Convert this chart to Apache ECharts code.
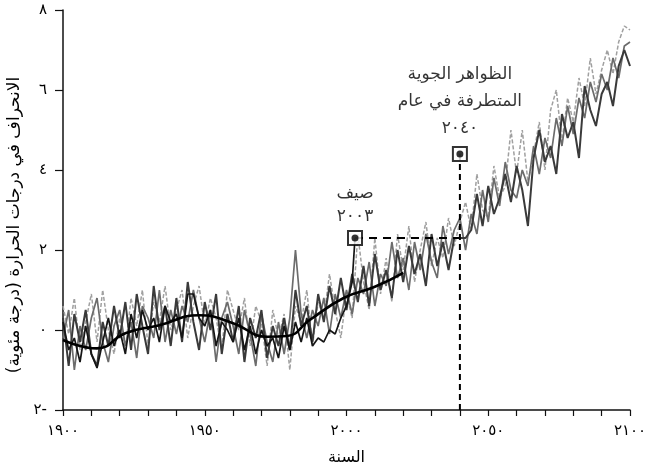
<!DOCTYPE html>
<html>
<head>
<meta charset="utf-8">
<script src="https://cdn.jsdelivr.net/npm/echarts@6/dist/echarts.min.js"></script>
<style>
  html, body { margin: 0; padding: 0; background: #fff; }
  #chart { width: 652px; height: 472px; }
</style>
</head>
<body>
<div id="chart" dir="rtl"></div>
<script>
// سنوات المحاكاة كل سنتين من ١٩٠٠ إلى ٢١٠٠
const modelYears = [];
for (let y = 1900; y <= 2100; y += 2) modelYears.push(y);

// نموذج ١ (رمادي غامق)
const modelDark = [
  0.3, -0.9, 0.4, -0.3, 0.5, -0.6, -0.9, 0.2, -0.4, 0.6,
  -0.2, 0.7, -0.5, 0.9, 0.1, -0.6, 1.1, 0.0, 0.6, -0.4,
  0.8, -0.3, 1.2, 0.2, -0.5, 0.7, 0.0, 0.9, -0.6, 0.4,
  -0.3, 0.6, -0.8, 0.3, -0.2, 0.5, -0.7, 0.1, -0.4, 0.3,
  -0.5, 1.0, 0.1, 0.6, -0.3, 0.9, 0.2, 1.1, 0.4, 1.3,
  0.5, 1.4, 0.7, 1.6, 0.6, 1.9, 1.0, 1.5, 0.8, 2.0,
  1.2, 2.1, 1.4, 1.9, 1.1, 2.4, 1.6, 2.2, 1.5, 2.3,
  2.3, 2.3, 2.5, 3.4, 2.6, 3.6, 2.9, 3.3, 3.9, 3.2,
  4.1, 3.5, 2.6, 4.3, 5.0, 4.2, 4.6, 3.9, 5.4, 4.8,
  5.2, 4.3, 6.1, 5.5, 5.1, 5.9, 6.2, 5.6, 6.6, 7.0,
  6.6
];

// نموذج ٢ (رمادي متوسط)
const modelMid = [
  -0.2, 0.5, -1.0, 0.1, -0.5, 0.3, 0.8, -0.3, -0.8, 0.1,
  0.5, -0.4, 0.2, -0.7, 0.6, 0.3, -0.2, 1.0, -0.3, 0.5,
  -0.1, 0.6, 0.2, 1.0, 0.3, -0.3, 0.5, -0.8, 0.3, 0.7,
  0.1, -0.6, 0.5, -0.1, -0.9, 0.4, -0.3, -0.8, 0.2, -0.6,
  0.3, 2.0, 0.4, -0.2, 0.5, 0.1, 0.8, -0.1, 0.9, 0.3,
  1.0, 0.4, 1.3, 0.9, 1.7, 0.6, 1.4, 1.1, 2.2, 1.3,
  1.8, 1.0, 2.2, 1.5, 2.4, 1.7, 1.3, 2.6, 1.9, 2.5,
  2.8, 2.0, 2.9, 2.4, 3.5, 2.7, 3.8, 3.1, 4.2, 3.5,
  3.3, 4.0, 3.6, 4.6, 3.9, 4.8, 4.3, 5.3, 4.6, 5.6,
  4.9, 5.8, 5.3, 6.2, 5.7, 6.4, 6.0, 6.8, 6.3, 7.1,
  7.2
];

// نموذج ٣ (رمادي فاتح متقطع)
const modelLight = [
  0.6, -0.1, 0.8, -0.5, 0.2, 0.9, -0.3, 1.0, 0.0, -0.6,
  0.3, -0.5, 0.8, 0.1, 1.0, -0.4, 0.7, 0.2, 1.1, 0.0,
  0.5, 1.0, -0.2, 0.6, 1.1, 0.1, 0.8, 0.3, -0.5, 1.0,
  0.5, 0.0, 0.8, -0.4, 0.6, 0.2, -0.9, 0.5, -0.2, 0.4,
  -1.0, 0.6, 0.2, 1.0, -0.4, 0.7, 0.3, 1.4, 0.5, -0.2,
  0.9, 0.3, 2.4, 1.2, 0.5, 2.3, 0.9, 1.8, 0.7, 2.4,
  1.5, 2.6, 1.2, 2.0, 2.7, 1.6, 2.3, 1.8, 2.8, 2.1,
  2.7, 3.2, 2.5, 3.9, 3.0, 2.8, 4.1, 3.3, 3.6, 5.0,
  3.9, 5.0, 3.7, 4.4, 5.2, 4.0, 5.5, 6.0, 4.7, 5.8,
  5.2, 6.3, 5.6, 6.8, 5.9, 6.5, 7.0, 6.4, 7.2, 7.6,
  7.5
];

// الرصد (أسود) حتى صيف ٢٠٠٣
const obsYears = [];
for (let y = 1900; y <= 2002; y += 2) obsYears.push(y);
obsYears.push(2003);
const obsValues = [
  0.2, -0.5, -0.2, -0.8, 0.1, -0.6, -0.95, -0.3, 0.3, -0.4,
  0.0, -0.6, 0.4, -0.2, 0.5, 0.0, 0.3, -0.3, 0.6, 0.2,
  0.4, -0.2, 0.9, 0.9, 0.3, 0.1, 0.5, -0.4, 0.2, 0.0,
  -0.3, 0.3, -0.5, 0.1, -0.6, 0.0, -0.4, -0.2, -0.7, 0.1,
  -0.5, 0.2, -0.3, 0.3, -0.4, -0.2, -0.3, 0.0, -0.1, 0.3,
  0.6, 1.2, 2.3
];

// المتوسط المنعّم
const smoothYears = [1900, 1912, 1922, 1934, 1948, 1960, 1972, 1979, 1987, 1999, 2010, 2020];
const smoothValues = [-0.25, -0.46, -0.08, 0.12, 0.37, 0.17, -0.17, -0.15, 0.25, 0.8, 1.08, 1.43];

// الحدثان
const eventYears = [2003, 2040];
const eventValues = [2.3, 4.4];
const eventLabels = ['صيف\n٢٠٠٣', 'الظواهر الجوية\nالمتطرفة في عام\n٢٠٤٠'];

const xTicks = [1900, 1950, 2000, 2050, 2100];
const yTicks = [-2, 0, 2, 4, 6, 8];

const toArabic = n => String(n).replace(/\d/g, d => '٠١٢٣٤٥٦٧٨٩'[d]);
const pairs = (xs, vs) => xs.map((x, i) => [x, vs[i]]);

const FONT = 'DejaVu Sans';

const chart = echarts.init(document.getElementById('chart'));

const eventData = pairs(eventYears, eventValues).map((d, i) => ({
  value: d,
  label: i === 0
    ? { offset: [-11, 0], distance: 2, lineHeight: 23 }
    : { offset: [0, 0], distance: 4, lineHeight: 27 }
}));

chart.setOption({
  animation: false,
  backgroundColor: '#fff',
  grid: { left: 63, right: 22, top: 10, bottom: 62, outerBoundsMode: 'none', containLabel: false },
  xAxis: {
    type: 'value',
    min: 1900, max: 2100, interval: 10,
    name: 'السنة',
    nameLocation: 'middle',
    nameGap: 40,
    nameTextStyle: { fontFamily: FONT, fontSize: 16, color: '#000' },
    axisLine: { onZero: false, lineStyle: { color: '#111', width: 1.5 } },
    axisTick: { length: 6, lineStyle: { color: '#111', width: 1.2 } },
    axisLabel: {
      margin: 14,
      fontFamily: FONT, fontSize: 15, color: '#000',
      formatter: v => xTicks.includes(v) ? toArabic(v) : ''
    },
    splitLine: { show: false }
  },
  yAxis: {
    type: 'value',
    min: -2, max: 8, interval: 2,
    name: 'الانحراف في درجات الحرارة (درجة مئوية)',
    nameLocation: 'middle',
    nameGap: 38,
    nameTextStyle: { fontFamily: FONT, fontSize: 17, color: '#000', padding: [0, 30, 0, 0] },
    axisLine: { show: true, lineStyle: { color: '#111', width: 1.5 } },
    axisTick: { show: true, length: 8, lineStyle: { color: '#111', width: 1.2 } },
    axisLabel: {
      margin: 16,
      fontFamily: FONT, fontSize: 15, color: '#000',
      formatter: v => yTicks.includes(v) ? (v < 0 ? '-' + toArabic(-v) : toArabic(v)) : ''
    },
    splitLine: { show: false }
  },
  series: [
    {
      type: 'line', data: pairs(modelYears, modelLight), symbol: 'none',
      lineStyle: { color: '#a0a0a0', width: 1.5, type: [4, 2] }, z: 2
    },
    {
      type: 'line', data: pairs(modelYears, modelMid), symbol: 'none',
      lineStyle: { color: '#6c6c6c', width: 1.7 }, z: 3
    },
    {
      type: 'line', data: pairs(modelYears, modelDark), symbol: 'none',
      lineStyle: { color: '#3a3a3a', width: 2 }, z: 4
    },
    {
      type: 'line', data: pairs(obsYears, obsValues), symbol: 'none',
      lineStyle: { color: '#151515', width: 1.7 }, z: 5
    },
    {
      type: 'line', data: pairs(smoothYears, smoothValues), symbol: 'none', smooth: 0.5,
      lineStyle: { color: '#000', width: 2.6 }, z: 6
    },
    {
      // خط متقطع أفقي من ٢٠٠٣ إلى ٢٠٤٠
      type: 'line', data: [[eventYears[0], eventValues[0]], [eventYears[1], eventValues[0]]],
      symbol: 'none', lineStyle: { color: '#000', width: 2, type: [8, 6] }, z: 7
    },
    {
      // خط متقطع عمودي عند ٢٠٤٠
      type: 'line', data: [[eventYears[1], eventValues[1]], [eventYears[1], -2]],
      symbol: 'none', lineStyle: { color: '#000', width: 2, type: [6, 4] }, z: 7
    },
    {
      type: 'scatter', data: eventData, symbol: 'rect', symbolSize: 14,
      itemStyle: { color: '#fff', borderColor: '#000', borderWidth: 2 }, z: 8,
      label: {
        show: true, position: 'top',
        fontFamily: FONT, fontSize: 17, color: '#000',
        formatter: p => eventLabels[p.dataIndex]
      },
      labelLayout: { hideOverlap: false }
    },
    {
      type: 'scatter', data: pairs(eventYears, eventValues), symbol: 'circle', symbolSize: 7,
      itemStyle: { color: '#000' }, z: 9
    }
  ]
});
</script>
</body>
</html>
